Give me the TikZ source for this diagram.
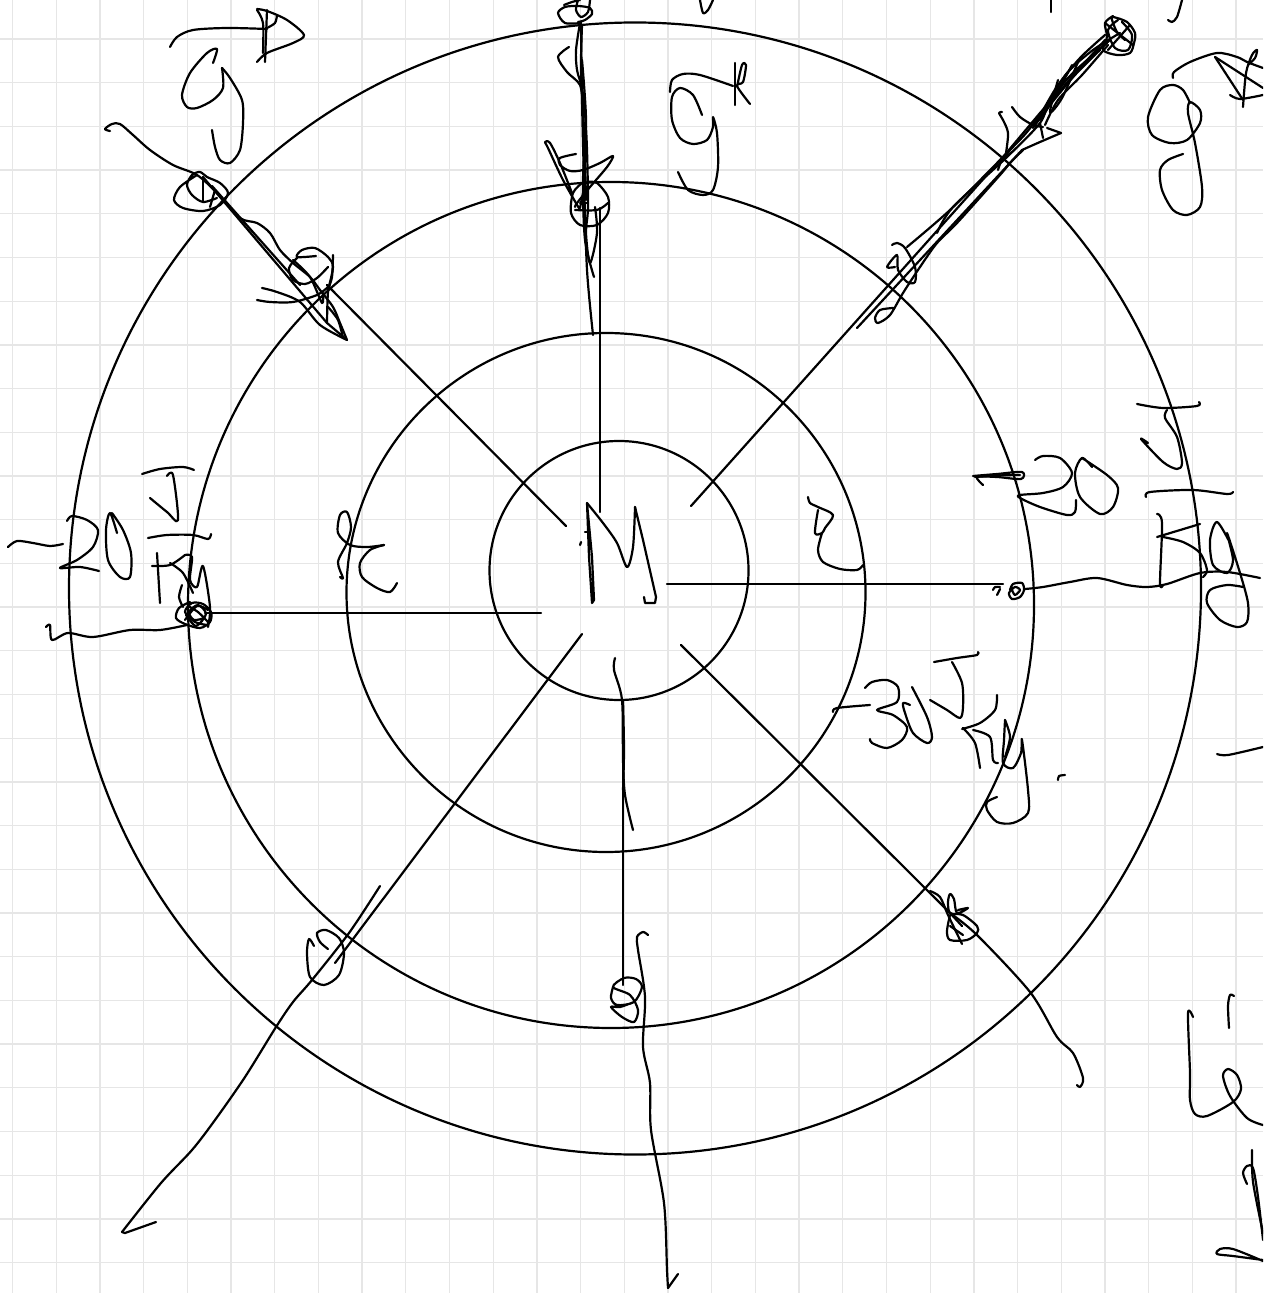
\documentclass[tikz,border=0pt]{standalone}
\definecolor{gridc}{HTML}{E6E6E6}
\tikzset{
  ink/.style={black,line width=1.1pt,line cap=round,line join=round},
  ring/.style={black,line width=1.1pt},
  gridline/.style={gridc,line width=0.65pt}
}
\newcommand{\stroke}[1]{\draw[ink] plot[smooth] coordinates {#1};}
\begin{document}
\begin{tikzpicture}[x=0.5pt,y=-0.5pt]
\useasboundingbox (0,0) rectangle (1263,1293);
\fill[white] (0,0) rectangle (1263,1293);
\clip (0,0) rectangle (1263,1293);
% squared paper
\foreach \n in {0,...,28} {\draw[gridline] ({12.5+43.7*\n},0) -- ({12.5+43.7*\n},1293);}
\foreach \n in {1,...,30} {\draw[gridline] (0,{-4.7+43.7*\n}) -- (1263,{-4.7+43.7*\n});}
% rings
\draw[ring] (635,588.5) circle (566);
\draw[ring] (611,605) circle (423);
\draw[ring] (606,592.5) circle (259.5);
\draw[ring] (619,570.5) circle (129.5);
% straight spokes
\draw[ink] (566,526) -- (327,285);
\draw[ink] (600,512) -- (600,208);
\draw[ink] (691,506) -- (1003,157);
\draw[ink] (857,328) -- (1022,150);
\draw[ink] (667,584) -- (1003,584);
\draw[ink] (541,613) -- (205,613);
\draw[ink] (582,634) -- (335,963);
\draw[ink] (623,700) -- (623,985);
\draw[ink] (681,645) -- (950,913);
% upper-left spoke and blobs
\stroke{(110,131)(105,129)(112,124)(120,124)(133,135)(150,150)(173,165)(197,175)(217,193)(240,218)(257,223)(270,233)(280,250)(293,263)(310,277)(320,290)(333,307)(340,323)(347,340)}
\draw[ink] (347,340) -- (327,323) -- (203,177);
\draw[ink] (212,186) -- (300,285);
\stroke{(197,175)(180,187)(174,200)(183,208)(203,211)(220,205)(228,193)(220,183)(207,177)(200,172)(192,175)(187,185)(192,195)(203,202)(217,198)}
\draw[ink] (203,177) -- (203,202);
\draw[ink] (210,207) -- (215,190);
\stroke{(316,256)(297,257)(302,250)(315,248)(328,257)(333,267)(328,290)}
\stroke{(297,258)(289,268)(293,280)(305,284)(317,278)(328,267)}
\stroke{(257,300)(270,302)(293,302)(317,295)(328,287)}
\stroke{(262,288)(277,292)(300,302)(320,325)(347,340)}
\stroke{(333,255)(332,277)(328,292)(327,323)}
\stroke{(293,260)(310,277)(322,303)(323,293)}
\stroke{(328,307)(338,320)(343,338)}
% top spoke
\stroke{(593,335)(587,270)(584,180)(582,100)(581,23)}
\stroke{(594,277)(585,240)(583,180)(586,120)(582,60)}
\stroke{(580,23)(576,50)(577,70)(582,88)(585,113)(587,150)(588,207)(586,233)(590,263)(597,233)(595,207)}
\stroke{(586,200)(584,130)(581,70)(582,25)}
\stroke{(569,47)(558,57)(567,72)(580,85)(583,107)}
\stroke{(580,210)(563,180)(548,148)(545,142)(550,143)(560,163)(572,193)}
\stroke{(576,154)(560,158)(560,165)(570,171)(583,170)(600,163)(613,156)(607,167)(590,187)(577,203)(575,207)}
\stroke{(582,183)(573,193)(571,213)(580,225)(597,225)(608,213)(608,197)(597,183)(587,182)}
\stroke{(575,210)(597,210)(608,203)}
\draw[ink] (580,203) -- (588,203);
\draw[ink] (580,208) -- (583,193);
\stroke{(581,23)(565,23)(558,13)(565,7)(578,6)(590,8)(592,14)(585,20)(578,22)}
\stroke{(564,5)(572,2)(580,0)}
\stroke{(578,0)(576,10)(581,17)(588,12)(590,0)}
% g^P
\stroke{(170,47)(177,37)(193,30)(227,28)(267,29)}
\draw[ink] (267,10) -- (265,62);
\stroke{(257,9)(267,11)(287,20)(304,35)(293,43)(267,53)(257,62)}
\stroke{(277,15)(275,23)(267,28)}
\stroke{(257,10)(263,23)(263,53)}
\stroke{(213,63)(217,49)(207,53)(190,73)(182,95)(187,107)(197,108)(213,100)(223,88)(222,68)}
\stroke{(222,68)(230,78)(242,100)(243,123)(240,150)(230,163)(220,160)(215,147)(212,130)}
% g^R
\stroke{(702,115)(693,95)(680,88)(672,97)(672,120)(680,138)(693,144)(707,140)(713,127)(713,117)(717,133)(718,167)(713,190)(703,195)(688,190)(678,172)}
\stroke{(670,92)(672,80)(683,74)(700,75)(733,86)}
\draw[ink] (735,63) -- (735,105);
\stroke{(737,87)(742,65)(746,65)(743,82)(737,86)(750,104)}
\stroke{(700,0)(703,13)(708,10)(713,0)}
% upper-right spoke
\stroke{(1051,0)(1051,12)}
\stroke{(1182,0)(1177,17)(1172,22)(1168,20)}
\stroke{(1113,16)(1105,23)(1107,37)(1103,50)(1117,55)(1130,53)(1134,43)(1135,33)(1127,22)(1113,17)(1112,20)(1117,32)(1125,40)}
\stroke{(1118,20)(1108,30)(1115,48)(1128,50)(1132,35)(1122,22)}
\draw[ink] (1105,23) -- (1133,45);
\draw[ink] (1130,25) -- (1108,50);
\draw[ink] (1003,157) -- (1040,113) -- (1105,40);
\stroke{(1107,43)(1073,73)(1050,100)(1040,123)(1007,157)(953,207)(937,233)}
\stroke{(1120,33)(1093,50)(1067,73)(1048,103)(1027,132)(1000,160)(950,210)(907,247)}
\stroke{(1040,120)(1062,85)(1085,62)(1110,40)}
\stroke{(1035,125)(1056,88)(1080,58)(1105,35)}
\stroke{(1033,128)(1050,105)(1075,75)(1100,50)}
\stroke{(1045,125)(1058,100)(1082,75)(1108,45)}
\stroke{(1042,118)(1065,78)(1072,65)}
\stroke{(1058,80)(1050,112)(1062,98)(1078,62)}
\stroke{(892,245)(897,243)(905,248)(915,267)(915,282)(907,282)(898,270)(897,255)(887,267)(895,267)}
\stroke{(1022,150)(1040,142)(1061,133)}
\draw[ink] (1061,133) -- (1047,128);
\draw[ink] (1043,138) -- (1040,123);
\stroke{(1012,107)(1020,117)(1033,125)(1043,127)}
\stroke{(1002,112)(999,113)(1003,120)(1008,133)(1006,153)}
\stroke{(893,308)(880,310)(875,318)(878,323)(890,315)(903,293)(920,267)(937,243)(957,223)(1000,175)(1010,163)(1023,150)}
\stroke{(998,170)(1002,160)(1012,152)}
% g^T top right
\stroke{(1173,78)(1174,72)(1190,62)(1217,53)(1237,57)(1247,62)(1263,68)}
\draw[ink] (1215,57) -- (1243,100);
\draw[ink] (1215,57) -- (1263,88);
\stroke{(1230,95)(1240,99)(1263,95)}
\stroke{(1243,107)(1246,73)(1252,55)(1257,50)(1255,58)(1248,65)}
\stroke{(1190,103)(1183,90)(1173,85)(1160,90)(1148,117)(1152,135)(1170,143)(1187,140)(1200,123)(1200,110)(1190,102)(1188,113)(1195,143)(1202,187)(1200,207)(1187,215)(1173,210)(1162,190)(1160,170)(1168,160)(1183,154)}
% -20 J/Kg left
\stroke{(8,547)(17,541)(33,543)(50,546)(63,544)}
\stroke{(67,521)(72,516)(87,520)(98,530)(93,547)(77,560)(60,568)(80,567)(99,571)}
\stroke{(117,533)(110,513)(106,530)(108,560)(120,577)(130,577)(131,553)(123,530)(112,513)}
\stroke{(142,474)(160,469)(183,467)(194,470)}
\stroke{(167,476)(173,475)(178,520)(167,512)(150,498)}
\stroke{(148,538)(167,535)(193,535)(208,539)(211,534)}
\draw[ink] (157,553) -- (160,603);
\stroke{(152,566)(170,565)(185,555)}
\stroke{(170,563)(183,573)(193,593)}
\stroke{(185,555)(192,557)(190,580)(197,587)(203,566)(210,607)(208,627)}
\stroke{(182,585)(179,597)(183,607)}
\stroke{(190,602)(179,608)(176,618)(185,624)(200,628)(210,622)(211,612)(203,604)(192,603)(185,612)(195,622)(207,625)}
\stroke{(185,620)(197,606)(208,610)}
\stroke{(188,606)(198,612)(208,622)}
\stroke{(186,615)(196,626)(206,614)(198,605)(189,612)(194,620)(204,618)}
\stroke{(46,627)(50,625)(52,640)(68,633)(93,637)(130,630)(160,630)(187,625)}
% tau
\stroke{(340,577)(343,578)(338,562)(347,543)(351,527)(347,512)(340,515)(338,533)(350,545)(367,547)(384,545)}
\stroke{(384,545)(370,550)(360,563)(362,577)(377,588)(390,592)(397,583)}
% M
\draw[ink] (580,545) -- (581,542);
\draw[ink] (585,532) -- (589,532);
\draw[ink] (587,503) -- (589,557) -- (592,603) -- (594,600) -- (592,557) -- (587,503);
\stroke{(587,503)(603,523)(617,543)(627,567)(633,547)(635,507)}
\draw[ink] (635,507) -- (643,540) -- (656,597) -- (655,603) -- (645,603) -- (644,597);
% r
\stroke{(808,497)(810,503)(818,507)(833,515)(825,528)(822,533)(815,533)(818,510)}
\stroke{(822,533)(818,550)(823,562)(840,569)(857,570)(863,565)}
% +20 J/Kg right
\stroke{(973,476)(997,474)(1022,472)(1021,479)(997,477)(977,477)(983,485)}
\stroke{(975,477)(997,475.5)(1020,475)}
\stroke{(1035,460)(1043,456)(1060,458)(1072,473)(1063,487)(1043,493)(1020,495)(1020,498)(1040,507)(1067,515)(1075,512)(1076,500)}
\stroke{(1092,467)(1082,458)(1075,473)(1080,497)(1100,514)(1113,507)(1118,488)(1107,475)(1082,458)}
\stroke{(1137,404)(1163,408)(1197,406)(1199,402)}
\stroke{(1167,410)(1165,418)(1177,437)(1182,463)(1177,469)(1163,462)(1141,439)(1148,443)}
\stroke{(1146,497)(1150,492)(1193,490)(1227,494)(1233,492)}
\stroke{(1157,514)(1162,523)(1160,583)(1163,585)}
\draw[ink] (1157,537) -- (1200,524);
\stroke{(1163,537)(1183,542)(1200,553)(1207,570)(1203,577)}
\stroke{(1230,543)(1217,522)(1210,540)(1213,565)(1227,573)(1233,560)(1227,533)(1240,573)(1248,603)(1247,622)(1237,627)(1220,620)(1207,603)(1210,590)(1227,585)(1243,587)}
\stroke{(1025,589)(1043,587)(1070,582)(1097,578)(1127,585)(1147,587)(1167,584)(1200,573)(1227,572)(1260,578)}
\stroke{(993,590)(995,587)(1000,587)}
\stroke{(997,595)(1000,589)}
\stroke{(1010,590)(1013,584)(1022,583)(1024,590)(1020,597)(1012,599)(1009,593)(1015,587)(1020,590)(1015,595)(1012,590)}
% 30 J/Kg
\stroke{(833,712)(837,708)(870,705)}
\stroke{(865,688)(872,682)(887,680)(898,687)(897,702)(877,710)(893,715)(907,727)(902,740)(887,748)(872,743)(870,739)}
\stroke{(912,687)(927,717)(932,737)(927,743)(913,733)(905,713)(903,703)(910,705)}
\stroke{(934,662)(957,658)(977,655)(978,652)}
\stroke{(952,662)(962,683)(963,707)(960,718)(947,710)(930,700)}
\stroke{(997,695)(995,710)(980,723)(962,729)}
\stroke{(963,728)(975,743)(980,768)}
\stroke{(973,730)(990,737)(993,760)(998,763)}
\stroke{(1005,720)(1004,740)(1003,763)(1013,768)(1021,753)(1022,740)(1028,790)(1028,813)(1013,823)(997,822)(987,810)(987,802)(997,797)}
\stroke{(1005,720)(1010,737)(1005,757)}
\stroke{(1058,780)(1059,776)(1065,775)}
% lower-left spoke
\stroke{(380,886)(349,933)(312,980)(293,1002)(276,1027)(245,1077)(215,1120)(192,1150)(161,1183)(122,1232)}
\draw[ink] (122,1232) -- (125,1233) -- (156,1222);
\stroke{(314,946)(309,939)(307,953)(310,977)(324,985)(339,975)(344,953)(339,938)(326,930)(317,933)(320,942)(328,949)}
% bottom spoke
\stroke{(615,658)(614,670)(622,700)(623,760)(625,795)(633,830)}
\stroke{(623,700)(624,750)(623,790)}
\stroke{(613,987)(611,998)(617,1005)(634,1002)(642,987)(636,979)(624,978)(613,987)(630,995)(638,1010)(634,1022)(622,1017)(611,1007)(620,1007)(634,1002)}
\stroke{(648,935)(643,932)(637,937)(638,950)(645,997)(643,1047)(650,1083)(651,1130)(664,1203)(667,1270)(668,1288)}
\draw[ink] (668,1288) -- (678,1274);
% lower-right spoke
\stroke{(950,913)(977,935)(1030,992)(1057,1037)(1073,1053)(1083,1078)(1080,1087)(1077,1085)}
\stroke{(930,891)(940,897)(948,915)(962,944)}
\stroke{(950,915)(947,931)(950,940)(967,940)(977,933)(977,926)(963,915)(950,913)(948,902)(950,894)(954,899)(957,913)(968,908)(958,910)}
\draw[ink] (950,926) -- (963,935);
\draw[ink] (950,913) -- (962,926);
% right edge marks
\stroke{(1217,754)(1228,755)(1263,747)}
\stroke{(1193,1017)(1188,1013)(1190,1073)(1190,1100)(1195,1114)(1207,1116)(1233,1102)(1241,1089)(1237,1075)(1228,1069)(1223,1076)(1230,1096)(1247,1118)(1263,1125)}
\stroke{(1229,1028)(1228,1006)(1230,995)(1234,996)}
\stroke{(1247,1184)(1243,1173)(1247,1166)(1253,1168)(1258,1197)(1263,1240)}
\stroke{(1252,1150)(1253,1182)(1263,1233)}
\stroke{(1263,1260)(1233,1256)(1217,1254)(1220,1249)(1233,1249)(1263,1261)}
\end{tikzpicture}
\end{document}
